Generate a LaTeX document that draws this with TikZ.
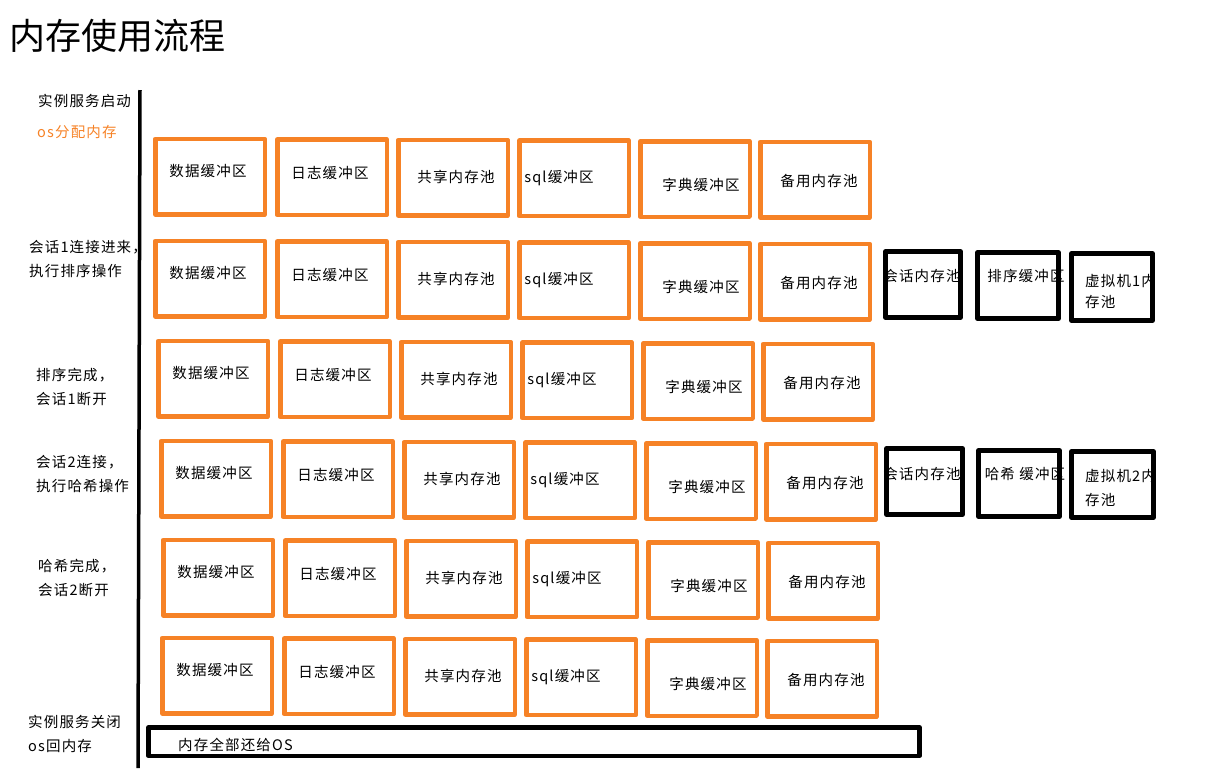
\documentclass[tikz,border=0pt]{standalone}
\usepackage{fontspec}
\setmainfont{Noto Sans CJK SC}
\newfontfamily\spaced[LetterSpace=8]{Noto Sans CJK SC}
\definecolor{memorange}{RGB}{246,130,38}

\begin{document}
\begin{tikzpicture}[
        x = 1pt, y = -1pt,
        line join=round,
        obox/.style = {draw=memorange, line width=4.5pt, inner sep=0pt, minimum width=109.5, minimum height=75.5},
        bbox/.style = {draw=black, line width=4.5pt, inner sep=0pt},
        txt/.style = {inner sep=0pt, font=\spaced\fontsize{14.5}{16}\selectfont},
        side/.style = {inner sep=0pt, anchor=west, align=left, font=\spaced\fontsize{14.5}{24}\selectfont}
    ]

    \useasboundingbox (0,0) rectangle (1232,777);

    \node[anchor=west, inner sep=0pt, font=\fontsize{36}{40}\selectfont] (title) at (9,36) {内存使用流程};

    \coordinate (top) at (140,90);
    \coordinate (bot) at (138,768);
    \draw[line width=3.5pt] (top) -- (bot);

    % left column: what happens
    \node[side] (start) at (38,101) {实例服务启动};
    \node[side, text=memorange] (alloc) at (37,132) {os分配内存};
    \node[side] (sess1) at (29,259) {会话1连接进来，\\执行排序操作};
    \node[side] (sort) at (36,387) {排序完成，\\会话1断开};
    \node[side] (sess2) at (36,474) {会话2连接，\\执行哈希操作};
    \node[side] (hash) at (38,578) {哈希完成，\\会话2断开};
    \node[side] (close) at (28,733.5) {实例服务关闭\\os回内存};

    % six rows of memory areas
    \foreach \r/\x/\y in {1/153/136, 2/153/238, 3/156/338, 4/159/438, 5/161/537, 6/160/635}{
        \foreach \c/\o/\t/\dx/\dy in {1/0/数据缓冲区/-2/34, 2/122/日志缓冲区/-2/36, 3/243/共享内存池/3/39,
                                      4/364/sql缓冲区/-15/40, 5/485/字典缓冲区/6/46, 6/605/备用内存池/4/41}{
            \node[obox] (b\r\c) at (\x+\o+57, \y+40+0.6*\c) {};
            \node[txt] (t\r\c) at ([xshift=\dx pt, yshift=-\dy pt]b\r\c.north) {\t};
        }
    }

    % session memory, sort
    \node[bbox, minimum width=75, minimum height=66] (s1) at (923,284.5) {};
    \node[bbox, minimum width=81, minimum height=66] (sortbuf) at (1018,285.5) {};
    \node[bbox, minimum width=81, minimum height=67] (vm1) at (1112,287) {};
    \node[txt] at (922,276) {会话内存池};
    \node[txt] at (1026,276) {排序缓冲区};
    \node[txt, anchor=west, align=left, font=\spaced\fontsize{14.5}{21}\selectfont] at (1085,291.5) {虚拟机1内\\存池};

    % session memory, hash
    \node[bbox, minimum width=76, minimum height=66] (s2) at (924.5,481.5) {};
    \node[bbox, minimum width=81, minimum height=66] (hashbuf) at (1019,483.5) {};
    \node[bbox, minimum width=82, minimum height=66] (vm2) at (1112.5,484.5) {};
    \node[txt] at (922,474) {会话内存池};
    \node[txt] at (1025,474) {哈希 缓冲区};
    \node[txt, anchor=west, align=left, font=\spaced\fontsize{14.5}{24}\selectfont] at (1085,488) {虚拟机2内\\存池};

    % all back to OS
    \node[bbox, minimum width=771, minimum height=28.5] (back) at (534,741.5) {};
    \node[txt, anchor=west] (backtxt) at (178,745) {内存全部还给OS};
\end{tikzpicture}
\end{document}
